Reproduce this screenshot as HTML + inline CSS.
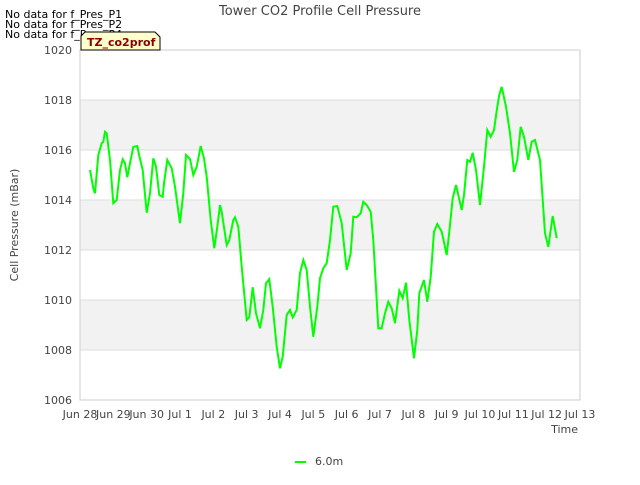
<!DOCTYPE html>
<html><head><meta charset="utf-8"><style>
body{margin:0;background:#fff;}
svg{font-family:"DejaVu Sans","Liberation Sans",sans-serif;}
</style></head><body>
<svg id="chart" width="640" height="480" xmlns="http://www.w3.org/2000/svg">
<g id="bands"></g><g id="grid"></g>
<rect x="80" y="50" width="500" height="350" fill="none" stroke="#ccc"/>
<g id="yt"></g><g id="xt"></g>
<path id="line" fill="none" stroke="#00ff00" stroke-width="2"/>
<text x="320" y="15" text-anchor="middle" font-size="13" fill="#444">Tower CO2 Profile Cell Pressure</text>
<text x="5" y="18" font-size="11" fill="#000">No data for f_Pres_P1</text>
<text x="5" y="28" font-size="11" fill="#000">No data for f_Pres_P2</text>
<text x="5" y="38" font-size="11" fill="#000">No data for f_Pres_P4</text>
<g>
<path d="M81,50 L81,36 L85,32 L155,32 L160,37 L160,50 Z" fill="#ffffcc" stroke="#000"/>
<text x="87" y="46" font-size="11" font-weight="bold" fill="#8b0000">TZ_co2prof</text></g>
<text x="18" y="225" font-size="11" fill="#444" text-anchor="middle" transform="rotate(-90 18 225)">Cell Pressure (mBar)</text>
<text x="578" y="433" font-size="11" fill="#444" text-anchor="end">Time</text>
<g>
<line x1="295" y1="462" x2="306" y2="462" stroke="#00ff00" stroke-width="2"/>
<text x="315" y="465" font-size="11" fill="#444">6.0m</text></g>
</svg>
<script>
const xLabels=["Jun 28","Jun 29","Jun 30","Jul 1","Jul 2","Jul 3","Jul 4","Jul 5","Jul 6","Jul 7","Jul 8","Jul 9","Jul 10","Jul 11","Jul 12","Jul 13"];
const yTicks=[1006,1008,1010,1012,1014,1016,1018,1020];
const days=[0.30,0.40,0.45,0.55,0.65,0.70,0.75,0.80,0.90,1.00,1.10,1.20,1.28,1.35,1.42,1.50,1.60,1.72,1.78,1.88,2.00,2.10,2.20,2.28,2.38,2.48,2.52,2.62,2.75,2.85,3.00,3.10,3.18,3.30,3.40,3.50,3.62,3.72,3.80,3.92,4.03,4.12,4.20,4.25,4.40,4.48,4.60,4.65,4.75,4.85,5.00,5.08,5.18,5.28,5.40,5.50,5.58,5.68,5.78,5.90,6.00,6.08,6.20,6.30,6.38,6.50,6.60,6.70,6.80,6.90,7.00,7.12,7.20,7.30,7.40,7.50,7.60,7.72,7.85,8.00,8.12,8.20,8.30,8.42,8.50,8.60,8.72,8.80,8.95,9.05,9.15,9.25,9.35,9.45,9.58,9.68,9.78,9.88,10.02,10.12,10.18,10.32,10.42,10.52,10.62,10.72,10.85,11.00,11.08,11.18,11.28,11.35,11.45,11.52,11.62,11.70,11.78,11.88,12.00,12.12,12.22,12.32,12.42,12.52,12.58,12.65,12.78,12.90,13.02,13.12,13.22,13.32,13.45,13.55,13.65,13.80,13.95,14.05,14.18,14.30];
const pressure=[1015.20,1014.47,1014.27,1015.80,1016.27,1016.33,1016.73,1016.67,1015.60,1013.87,1014.00,1015.20,1015.63,1015.47,1014.91,1015.47,1016.13,1016.16,1015.76,1015.20,1013.49,1014.27,1015.67,1015.33,1014.20,1014.13,1014.67,1015.60,1015.27,1014.53,1013.07,1014.27,1015.80,1015.64,1015.00,1015.33,1016.16,1015.67,1014.93,1013.20,1012.07,1012.93,1013.80,1013.53,1012.20,1012.40,1013.20,1013.31,1012.93,1011.33,1009.20,1009.31,1010.51,1009.47,1008.87,1009.60,1010.67,1010.83,1009.73,1008.13,1007.27,1007.73,1009.40,1009.60,1009.31,1009.60,1011.07,1011.60,1011.20,1009.73,1008.53,1009.73,1010.87,1011.27,1011.47,1012.40,1013.73,1013.76,1013.07,1011.20,1011.87,1013.33,1013.31,1013.47,1013.93,1013.80,1013.53,1012.40,1008.87,1008.87,1009.47,1009.93,1009.67,1009.07,1010.37,1010.07,1010.69,1009.20,1007.67,1008.80,1010.27,1010.80,1009.93,1010.93,1012.73,1013.04,1012.73,1011.80,1012.73,1014.07,1014.60,1014.20,1013.60,1014.20,1015.60,1015.53,1015.89,1015.20,1013.80,1015.33,1016.80,1016.53,1016.80,1017.73,1018.20,1018.53,1017.73,1016.67,1015.13,1015.60,1016.93,1016.53,1015.60,1016.33,1016.40,1015.60,1012.67,1012.13,1013.36,1012.47];
const X0=80,X1=580,Y0=400,Y1=50,DMAX=15,VMIN=1006,VMAX=1020;
const xs=d=>X0+(X1-X0)*d/DMAX;
const ys=v=>Y0-(Y0-Y1)*(v-VMIN)/(VMAX-VMIN);
const NS="http://www.w3.org/2000/svg";
function mk(t,a,p){const e=document.createElementNS(NS,t);for(const k in a)e.setAttribute(k,a[k]);p.appendChild(e);return e;}
const bands=document.getElementById('bands'),grid=document.getElementById('grid'),yt=document.getElementById('yt'),xt=document.getElementById('xt');
for(let i=0;i<yTicks.length;i++){
  const v=yTicks[i],y=ys(v);
  if(i<yTicks.length-1&&i%2===1){
    const b=mk('rect',{x:X0,y:ys(yTicks[i+1]),width:X1-X0,height:y-ys(yTicks[i+1]),fill:'#f2f2f2'},bands);
    
    
  }
  const l=mk('line',{x1:X0,x2:X1,y1:y,y2:y,stroke:'#ddd'},grid);
  
  
  const t=mk('text',{x:72,y:y+4,'text-anchor':'end','font-size':11,fill:'#444'},yt);
  t.textContent=v;
  
  
}
xLabels.forEach((s,i)=>{
  const t=mk('text',{x:xs(i),y:418,'text-anchor':'middle','font-size':11,fill:'#444'},xt);
  t.textContent=s;
  
  
});
document.getElementById('line').setAttribute('d',days.map((d,i)=>(i?'L':'M')+xs(d).toFixed(1)+','+ys(pressure[i]).toFixed(1)).join(''));
</script>
</body></html>
